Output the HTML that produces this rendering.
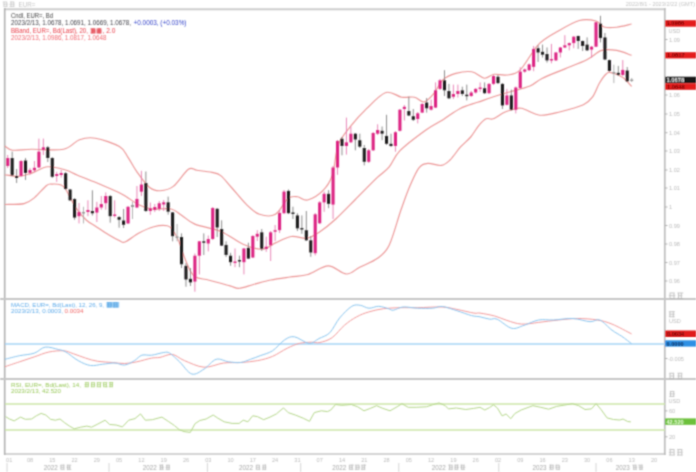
<!DOCTYPE html>
<html><head><meta charset="utf-8"><style>
html,body{margin:0;padding:0;background:#fff;}
body{width:696px;height:472px;overflow:hidden;position:relative;}
svg{position:absolute;left:0;top:0;}
text{font-family:"Liberation Sans",sans-serif;}
</style></head><body>
<svg width="696" height="472" viewBox="0 0 696 472">
<defs><filter id="bl" x="-2%" y="-2%" width="104%" height="104%"><feConvolveMatrix order="3" kernelMatrix="0.04387 0.12171 0.04387 0.12171 0.33767 0.12171 0.04387 0.12171 0.04387" edgeMode="duplicate" preserveAlpha="false"/></filter></defs>
<rect width="696" height="472" fill="#fff"/>
<g filter="url(#bl)">
<!-- top labels -->
<g stroke="#c4c4c4" stroke-width="0.87" opacity="0.90" fill="none"><path d="M2.72,2.01H7.12M3.19,4.25H7.88M3.42,6.49H7.42M4.03,2.01V6.39M6.78,2.11V7.01"/><path d="M10.02,2.01H14.12M9.40,4.25H14.46M9.57,6.49H14.48M11.05,1.66V6.67M13.77,1.95V6.47"/></g>
<text x="18.5" y="6.6" font-size="6.4" fill="#c4c4c4" textLength="16.8" lengthAdjust="spacingAndGlyphs">EUR=</text>
<text x="695" y="5.6" font-size="5.6" fill="#c4c4c4" text-anchor="end">2022/8/1 - 2023/2/22 (GMT)</text>
<!-- frame -->
<line x1="4" y1="9.3" x2="665.5" y2="9.3" stroke="#cdcdcd" stroke-width="1.9"/>
<line x1="4" y1="454" x2="665.5" y2="454" stroke="#d4d4d4" stroke-width="1.8"/>
<line x1="4.7" y1="8" x2="4.7" y2="455" stroke="#b2b2b2" stroke-width="1.6"/>
<line x1="664.8" y1="8" x2="664.8" y2="455" stroke="#bdbdbd" stroke-width="1.7"/>
<line x1="0" y1="299" x2="696" y2="299" stroke="#c6c6c6" stroke-width="1.8"/>
<line x1="0" y1="379" x2="696" y2="379" stroke="#c6c6c6" stroke-width="1.8"/>
<!-- bands -->
<g fill="none" stroke="#ec9696" stroke-width="1.15">
<path d="M4.8,146.1 C6.1,146.8 8.2,149.7 12.7,150.2 C17.2,150.7 23.3,149.5 31.8,149.3 C40.3,149.2 55.6,150.9 63.6,149.3 C71.5,147.7 74.2,141.5 79.5,139.7 C84.8,137.8 88.8,137.0 95.4,138.2 C102.1,139.3 114.0,143.4 119.4,146.6 C124.8,149.8 125.1,153.2 128.0,157.3 C130.9,161.4 133.0,166.3 136.6,171.3 C140.2,176.3 145.6,184.3 149.6,187.5 C153.6,190.7 156.4,190.9 160.3,190.7 C164.2,190.5 168.6,190.0 173.3,186.4 C178.0,182.8 184.5,171.9 188.4,169.2 C192.3,166.5 193.1,169.8 197.0,170.3 C200.9,170.8 208.2,171.5 212.1,172.4 C216.0,173.3 217.5,173.1 220.7,175.6 C223.9,178.1 227.2,182.7 231.5,187.5 C235.8,192.3 241.9,200.2 246.6,204.7 C251.3,209.2 254.7,212.7 259.5,214.3 C264.3,215.9 270.6,217.0 275.4,214.3 C280.2,211.7 284.4,201.3 288.1,198.4 C291.8,195.5 294.4,196.5 297.6,196.8 C300.9,197.1 303.4,201.1 307.6,200.0 C311.9,198.9 318.9,194.7 323.1,190.4 C327.3,186.2 330.1,182.1 332.6,174.5 C335.1,166.9 335.1,153.1 338.2,145.0 C341.2,136.9 346.1,132.0 350.9,125.9 C355.7,119.8 361.0,114.0 366.8,108.4 C372.6,102.8 380.1,94.4 385.9,92.5 C391.7,90.6 396.9,96.4 401.7,97.2 C406.5,98.0 410.8,96.4 414.5,97.2 C418.2,98.0 420.8,102.5 424.0,102.0 C427.2,101.5 430.3,97.7 433.5,94.0 C436.7,90.3 439.4,83.1 443.1,79.7 C446.8,76.3 451.0,74.7 455.8,73.4 C460.6,72.1 466.9,71.0 471.7,71.8 C476.5,72.6 480.7,77.8 484.4,78.2 C488.1,78.6 490.3,74.8 494.0,74.3 C497.7,73.8 502.4,75.7 506.7,75.0 C511.0,74.3 514.8,75.2 520.0,70.2 C525.2,65.2 532.1,51.2 538.2,44.8 C544.4,38.4 550.0,35.9 556.9,31.8 C563.8,27.8 572.8,22.3 579.3,20.5 C585.8,18.7 591.9,19.9 596.0,21.0 C600.1,22.1 600.5,26.0 604.0,27.0 C607.5,28.0 612.1,27.7 616.7,27.2 C621.3,26.7 629.1,24.5 631.6,24.0"/>
<path d="M4.8,174.7 C7.2,175.0 14.5,176.6 19.0,176.3 C23.5,176.0 27.0,174.7 31.8,173.1 C36.6,171.5 42.1,167.3 47.7,166.8 C53.3,166.3 60.5,168.6 65.5,170.0 C70.5,171.4 71.8,172.8 77.6,175.2 C83.3,177.6 92.7,181.2 100.0,184.3 C107.3,187.4 115.1,190.6 121.6,194.0 C128.1,197.4 133.8,202.2 138.8,204.7 C143.8,207.2 146.3,208.3 151.7,209.0 C157.1,209.7 166.1,207.9 171.1,209.0 C176.1,210.1 177.9,213.0 181.9,215.5 C185.9,218.0 188.2,221.4 194.8,224.1 C201.4,226.8 213.2,228.3 221.3,231.7 C229.4,235.1 236.7,241.6 243.6,244.5 C250.5,247.4 257.4,249.5 262.7,249.2 C268.0,248.9 270.6,245.0 275.4,242.9 C280.2,240.8 286.0,237.3 291.3,236.5 C296.6,235.7 302.4,238.9 307.2,238.1 C312.0,237.3 315.1,234.9 319.9,231.7 C324.7,228.5 330.0,224.3 335.8,219.0 C341.6,213.7 348.0,206.9 354.9,200.0 C361.8,193.1 371.4,183.2 377.1,177.7 C382.8,172.2 385.2,171.7 389.0,167.2 C392.8,162.7 393.9,156.9 400.0,150.7 C406.1,144.5 418.7,135.2 425.9,130.0 C433.1,124.8 437.3,123.3 443.0,119.7 C448.7,116.1 454.5,111.3 460.3,108.4 C466.1,105.5 471.6,104.4 477.6,102.3 C483.7,100.2 491.2,97.5 496.6,95.8 C502.1,94.0 504.7,93.4 510.3,91.8 C515.9,90.2 524.7,88.2 530.0,86.0 C535.3,83.8 536.3,81.2 542.0,78.4 C547.7,75.6 556.9,72.2 564.4,69.1 C571.9,66.0 580.6,62.9 586.8,59.8 C593.0,56.7 596.7,52.0 601.7,50.4 C606.7,48.8 611.7,49.6 616.7,50.4 C621.7,51.2 629.1,54.5 631.6,55.3"/>
<path d="M4.8,204.5 C8.0,204.3 19.2,204.8 24.1,203.6 C29.1,202.4 30.8,200.6 34.5,197.6 C38.2,194.6 43.7,187.8 46.6,185.5 C49.5,183.2 49.4,184.2 51.7,184.1 C54.0,184.0 58.0,183.9 60.3,184.7 C62.6,185.5 62.9,185.1 65.5,189.0 C68.1,192.9 72.5,202.7 75.9,207.9 C79.4,213.1 82.8,216.8 86.2,220.0 C89.7,223.2 92.9,224.5 96.6,226.9 C100.3,229.3 104.8,232.4 108.6,234.7 C112.4,237.0 117.0,239.5 119.7,240.7 C122.4,241.9 121.8,243.3 125.0,242.0 C128.2,240.7 134.2,235.6 139.0,233.0 C143.8,230.4 149.2,227.9 153.9,226.7 C158.6,225.5 164.1,225.2 167.3,225.8 C170.5,226.4 171.1,228.0 173.0,230.5 C174.9,233.0 176.8,236.5 178.7,241.0 C180.6,245.5 182.5,252.4 184.4,257.3 C186.3,262.2 188.3,267.3 190.2,270.6 C192.1,273.9 192.7,275.7 195.9,277.3 C199.1,278.9 203.5,278.8 209.2,280.2 C214.9,281.6 225.0,284.5 230.0,285.9 C235.0,287.2 235.2,288.5 239.1,288.3 C243.0,288.1 248.1,285.9 253.4,284.5 C258.7,283.1 264.6,281.2 270.7,280.0 C276.8,278.8 283.8,277.9 290.0,277.0 C296.2,276.1 301.6,276.4 308.0,274.5 C314.4,272.6 321.8,266.0 328.2,265.9 C334.6,265.8 341.1,273.8 346.3,274.0 C351.6,274.2 354.5,269.8 359.7,267.2 C364.9,264.6 372.6,262.0 377.5,258.3 C382.4,254.6 385.4,253.2 389.3,245.0 C393.2,236.8 397.7,219.2 401.2,209.3 C404.7,199.4 407.1,192.5 410.1,185.6 C413.1,178.7 416.0,171.5 419.0,167.8 C422.0,164.1 424.2,163.8 427.9,163.4 C431.6,163.0 437.6,166.0 441.3,165.4 C445.0,164.8 446.8,163.0 450.0,160.0 C453.2,157.0 456.9,151.0 460.3,147.2 C463.8,143.4 467.5,140.7 470.7,137.0 C473.9,133.3 476.7,127.8 479.3,124.8 C481.9,121.8 483.9,119.8 486.2,118.8 C488.5,117.8 490.2,119.8 493.1,118.8 C496.0,117.8 500.5,114.2 503.4,112.8 C506.3,111.4 507.3,111.0 510.3,110.2 C513.3,109.5 516.5,107.5 521.4,108.3 C526.3,109.1 533.3,114.6 539.8,115.2 C546.3,115.8 553.2,113.4 560.5,111.7 C567.8,110.0 578.0,107.3 583.4,104.8 C588.8,102.3 589.9,100.4 592.6,96.8 C595.3,93.2 597.2,86.8 599.5,83.0 C601.8,79.2 604.5,75.5 606.4,73.8 C608.3,72.1 608.3,72.0 611.0,72.6 C613.7,73.2 619.0,74.9 622.5,77.2 C626.0,79.5 630.2,84.9 631.7,86.4"/>
</g>
<line x1="7.70" y1="155.0" x2="7.70" y2="168.0" stroke="#e67ab0" stroke-width="0.9"/>
<line x1="12.16" y1="151.6" x2="12.16" y2="176.0" stroke="#808080" stroke-width="0.9"/>
<line x1="16.61" y1="169.0" x2="16.61" y2="183.0" stroke="#808080" stroke-width="0.9"/>
<line x1="21.07" y1="160.0" x2="21.07" y2="177.0" stroke="#e67ab0" stroke-width="0.9"/>
<line x1="25.53" y1="158.0" x2="25.53" y2="180.0" stroke="#808080" stroke-width="0.9"/>
<line x1="29.98" y1="168.0" x2="29.98" y2="175.0" stroke="#e67ab0" stroke-width="0.9"/>
<line x1="34.44" y1="161.0" x2="34.44" y2="172.0" stroke="#e67ab0" stroke-width="0.9"/>
<line x1="38.90" y1="138.6" x2="38.90" y2="168.0" stroke="#e67ab0" stroke-width="0.9"/>
<line x1="43.36" y1="138.6" x2="43.36" y2="155.0" stroke="#e67ab0" stroke-width="0.9"/>
<line x1="47.81" y1="146.0" x2="47.81" y2="162.0" stroke="#808080" stroke-width="0.9"/>
<line x1="52.27" y1="157.0" x2="52.27" y2="178.0" stroke="#808080" stroke-width="0.9"/>
<line x1="56.73" y1="171.8" x2="56.73" y2="181.9" stroke="#e67ab0" stroke-width="0.9"/>
<line x1="61.18" y1="170.0" x2="61.18" y2="177.5" stroke="#e67ab0" stroke-width="0.9"/>
<line x1="65.64" y1="172.0" x2="65.64" y2="190.0" stroke="#808080" stroke-width="0.9"/>
<line x1="70.10" y1="189.0" x2="70.10" y2="201.0" stroke="#808080" stroke-width="0.9"/>
<line x1="74.56" y1="198.0" x2="74.56" y2="219.8" stroke="#808080" stroke-width="0.9"/>
<line x1="79.01" y1="203.0" x2="79.01" y2="223.4" stroke="#e67ab0" stroke-width="0.9"/>
<line x1="83.47" y1="206.8" x2="83.47" y2="223.4" stroke="#aaa" stroke-width="0.9"/>
<line x1="87.93" y1="200.3" x2="87.93" y2="216.2" stroke="#e67ab0" stroke-width="0.9"/>
<line x1="92.38" y1="190.3" x2="92.38" y2="215.5" stroke="#808080" stroke-width="0.9"/>
<line x1="96.84" y1="201.8" x2="96.84" y2="222.0" stroke="#e67ab0" stroke-width="0.9"/>
<line x1="101.30" y1="196.0" x2="101.30" y2="209.7" stroke="#e67ab0" stroke-width="0.9"/>
<line x1="105.75" y1="192.4" x2="105.75" y2="209.7" stroke="#e67ab0" stroke-width="0.9"/>
<line x1="110.21" y1="195.0" x2="110.21" y2="222.7" stroke="#808080" stroke-width="0.9"/>
<line x1="114.67" y1="200.3" x2="114.67" y2="217.6" stroke="#e67ab0" stroke-width="0.9"/>
<line x1="119.12" y1="216.0" x2="119.12" y2="227.7" stroke="#808080" stroke-width="0.9"/>
<line x1="123.58" y1="209.0" x2="123.58" y2="228.0" stroke="#808080" stroke-width="0.9"/>
<line x1="128.04" y1="206.0" x2="128.04" y2="224.0" stroke="#e67ab0" stroke-width="0.9"/>
<line x1="132.50" y1="201.8" x2="132.50" y2="219.0" stroke="#aaa" stroke-width="0.9"/>
<line x1="136.95" y1="186.0" x2="136.95" y2="208.0" stroke="#e67ab0" stroke-width="0.9"/>
<line x1="141.41" y1="170.8" x2="141.41" y2="196.0" stroke="#e67ab0" stroke-width="0.9"/>
<line x1="145.87" y1="171.5" x2="145.87" y2="212.0" stroke="#808080" stroke-width="0.9"/>
<line x1="150.32" y1="202.5" x2="150.32" y2="214.8" stroke="#e67ab0" stroke-width="0.9"/>
<line x1="154.78" y1="204.0" x2="154.78" y2="212.0" stroke="#e67ab0" stroke-width="0.9"/>
<line x1="159.24" y1="201.0" x2="159.24" y2="211.0" stroke="#e67ab0" stroke-width="0.9"/>
<line x1="163.69" y1="200.0" x2="163.69" y2="211.0" stroke="#e67ab0" stroke-width="0.9"/>
<line x1="168.15" y1="196.6" x2="168.15" y2="214.6" stroke="#808080" stroke-width="0.9"/>
<line x1="172.61" y1="212.0" x2="172.61" y2="241.3" stroke="#808080" stroke-width="0.9"/>
<line x1="177.07" y1="224.0" x2="177.07" y2="241.3" stroke="#aaa" stroke-width="0.9"/>
<line x1="181.52" y1="233.4" x2="181.52" y2="268.0" stroke="#808080" stroke-width="0.9"/>
<line x1="185.98" y1="263.0" x2="185.98" y2="286.7" stroke="#808080" stroke-width="0.9"/>
<line x1="190.44" y1="268.0" x2="190.44" y2="286.0" stroke="#808080" stroke-width="0.9"/>
<line x1="194.89" y1="253.5" x2="194.89" y2="291.7" stroke="#e67ab0" stroke-width="0.9"/>
<line x1="199.35" y1="241.0" x2="199.35" y2="274.4" stroke="#e67ab0" stroke-width="0.9"/>
<line x1="203.81" y1="233.4" x2="203.81" y2="255.0" stroke="#808080" stroke-width="0.9"/>
<line x1="208.26" y1="235.5" x2="208.26" y2="251.4" stroke="#e67ab0" stroke-width="0.9"/>
<line x1="212.72" y1="207.0" x2="212.72" y2="240.0" stroke="#e67ab0" stroke-width="0.9"/>
<line x1="217.18" y1="208.0" x2="217.18" y2="237.0" stroke="#808080" stroke-width="0.9"/>
<line x1="221.64" y1="220.3" x2="221.64" y2="246.0" stroke="#808080" stroke-width="0.9"/>
<line x1="226.09" y1="241.3" x2="226.09" y2="257.0" stroke="#808080" stroke-width="0.9"/>
<line x1="230.55" y1="252.8" x2="230.55" y2="265.8" stroke="#808080" stroke-width="0.9"/>
<line x1="235.01" y1="248.5" x2="235.01" y2="267.2" stroke="#e67ab0" stroke-width="0.9"/>
<line x1="239.46" y1="255.7" x2="239.46" y2="267.2" stroke="#808080" stroke-width="0.9"/>
<line x1="243.92" y1="248.0" x2="243.92" y2="274.4" stroke="#e67ab0" stroke-width="0.9"/>
<line x1="248.38" y1="242.7" x2="248.38" y2="259.0" stroke="#808080" stroke-width="0.9"/>
<line x1="252.83" y1="235.0" x2="252.83" y2="258.0" stroke="#e67ab0" stroke-width="0.9"/>
<line x1="257.29" y1="230.2" x2="257.29" y2="241.0" stroke="#e67ab0" stroke-width="0.9"/>
<line x1="261.75" y1="229.0" x2="261.75" y2="251.0" stroke="#808080" stroke-width="0.9"/>
<line x1="266.21" y1="236.7" x2="266.21" y2="251.8" stroke="#e67ab0" stroke-width="0.9"/>
<line x1="270.66" y1="231.0" x2="270.66" y2="261.0" stroke="#e67ab0" stroke-width="0.9"/>
<line x1="275.12" y1="225.0" x2="275.12" y2="241.0" stroke="#e67ab0" stroke-width="0.9"/>
<line x1="279.58" y1="210.0" x2="279.58" y2="233.0" stroke="#e67ab0" stroke-width="0.9"/>
<line x1="284.03" y1="190.0" x2="284.03" y2="214.0" stroke="#e67ab0" stroke-width="0.9"/>
<line x1="288.49" y1="189.5" x2="288.49" y2="214.0" stroke="#808080" stroke-width="0.9"/>
<line x1="292.95" y1="206.7" x2="292.95" y2="219.0" stroke="#808080" stroke-width="0.9"/>
<line x1="297.40" y1="213.2" x2="297.40" y2="231.0" stroke="#808080" stroke-width="0.9"/>
<line x1="301.86" y1="215.4" x2="301.86" y2="233.8" stroke="#808080" stroke-width="0.9"/>
<line x1="306.32" y1="211.0" x2="306.32" y2="241.0" stroke="#808080" stroke-width="0.9"/>
<line x1="310.78" y1="236.0" x2="310.78" y2="256.8" stroke="#808080" stroke-width="0.9"/>
<line x1="315.23" y1="213.0" x2="315.23" y2="255.4" stroke="#e67ab0" stroke-width="0.9"/>
<line x1="319.69" y1="201.0" x2="319.69" y2="224.0" stroke="#e67ab0" stroke-width="0.9"/>
<line x1="324.15" y1="191.6" x2="324.15" y2="211.8" stroke="#e67ab0" stroke-width="0.9"/>
<line x1="328.60" y1="190.2" x2="328.60" y2="208.2" stroke="#808080" stroke-width="0.9"/>
<line x1="333.06" y1="166.0" x2="333.06" y2="219.0" stroke="#e67ab0" stroke-width="0.9"/>
<line x1="337.52" y1="140.0" x2="337.52" y2="174.8" stroke="#e67ab0" stroke-width="0.9"/>
<line x1="341.97" y1="137.0" x2="341.97" y2="155.3" stroke="#808080" stroke-width="0.9"/>
<line x1="346.43" y1="117.6" x2="346.43" y2="154.6" stroke="#e67ab0" stroke-width="0.9"/>
<line x1="350.89" y1="126.5" x2="350.89" y2="143.0" stroke="#e67ab0" stroke-width="0.9"/>
<line x1="355.35" y1="133.0" x2="355.35" y2="150.3" stroke="#808080" stroke-width="0.9"/>
<line x1="359.80" y1="133.7" x2="359.80" y2="148.0" stroke="#808080" stroke-width="0.9"/>
<line x1="364.26" y1="145.0" x2="364.26" y2="165.4" stroke="#808080" stroke-width="0.9"/>
<line x1="368.72" y1="149.0" x2="368.72" y2="163.0" stroke="#e67ab0" stroke-width="0.9"/>
<line x1="373.17" y1="132.0" x2="373.17" y2="151.0" stroke="#e67ab0" stroke-width="0.9"/>
<line x1="377.63" y1="124.3" x2="377.63" y2="135.0" stroke="#e67ab0" stroke-width="0.9"/>
<line x1="382.09" y1="126.5" x2="382.09" y2="140.2" stroke="#808080" stroke-width="0.9"/>
<line x1="386.54" y1="114.8" x2="386.54" y2="145.0" stroke="#808080" stroke-width="0.9"/>
<line x1="391.00" y1="133.7" x2="391.00" y2="147.0" stroke="#808080" stroke-width="0.9"/>
<line x1="395.46" y1="131.0" x2="395.46" y2="151.7" stroke="#e67ab0" stroke-width="0.9"/>
<line x1="399.92" y1="109.0" x2="399.92" y2="131.5" stroke="#e67ab0" stroke-width="0.9"/>
<line x1="404.37" y1="105.0" x2="404.37" y2="120.5" stroke="#e67ab0" stroke-width="0.9"/>
<line x1="408.83" y1="96.7" x2="408.83" y2="116.0" stroke="#808080" stroke-width="0.9"/>
<line x1="413.29" y1="109.0" x2="413.29" y2="121.0" stroke="#808080" stroke-width="0.9"/>
<line x1="417.74" y1="112.0" x2="417.74" y2="123.4" stroke="#e67ab0" stroke-width="0.9"/>
<line x1="422.20" y1="103.0" x2="422.20" y2="113.0" stroke="#e67ab0" stroke-width="0.9"/>
<line x1="426.66" y1="98.0" x2="426.66" y2="112.6" stroke="#808080" stroke-width="0.9"/>
<line x1="431.11" y1="99.6" x2="431.11" y2="110.5" stroke="#e67ab0" stroke-width="0.9"/>
<line x1="435.57" y1="82.4" x2="435.57" y2="108.0" stroke="#e67ab0" stroke-width="0.9"/>
<line x1="440.03" y1="79.0" x2="440.03" y2="90.0" stroke="#e67ab0" stroke-width="0.9"/>
<line x1="444.49" y1="70.2" x2="444.49" y2="96.0" stroke="#808080" stroke-width="0.9"/>
<line x1="448.94" y1="83.9" x2="448.94" y2="99.0" stroke="#808080" stroke-width="0.9"/>
<line x1="453.40" y1="84.6" x2="453.40" y2="99.0" stroke="#e67ab0" stroke-width="0.9"/>
<line x1="457.86" y1="84.6" x2="457.86" y2="97.5" stroke="#e67ab0" stroke-width="0.9"/>
<line x1="462.31" y1="86.7" x2="462.31" y2="96.0" stroke="#808080" stroke-width="0.9"/>
<line x1="466.77" y1="84.6" x2="466.77" y2="100.4" stroke="#808080" stroke-width="0.9"/>
<line x1="471.23" y1="91.0" x2="471.23" y2="97.0" stroke="#e67ab0" stroke-width="0.9"/>
<line x1="475.68" y1="88.0" x2="475.68" y2="93.5" stroke="#e67ab0" stroke-width="0.9"/>
<line x1="480.14" y1="82.4" x2="480.14" y2="91.8" stroke="#e67ab0" stroke-width="0.9"/>
<line x1="484.60" y1="82.4" x2="484.60" y2="94.0" stroke="#808080" stroke-width="0.9"/>
<line x1="489.06" y1="83.0" x2="489.06" y2="94.0" stroke="#e67ab0" stroke-width="0.9"/>
<line x1="493.51" y1="75.0" x2="493.51" y2="85.0" stroke="#e67ab0" stroke-width="0.9"/>
<line x1="497.97" y1="75.0" x2="497.97" y2="84.0" stroke="#808080" stroke-width="0.9"/>
<line x1="502.43" y1="83.0" x2="502.43" y2="109.0" stroke="#808080" stroke-width="0.9"/>
<line x1="506.88" y1="88.9" x2="506.88" y2="105.5" stroke="#e67ab0" stroke-width="0.9"/>
<line x1="511.34" y1="89.6" x2="511.34" y2="110.5" stroke="#808080" stroke-width="0.9"/>
<line x1="515.80" y1="86.5" x2="515.80" y2="113.4" stroke="#e67ab0" stroke-width="0.9"/>
<line x1="520.25" y1="67.3" x2="520.25" y2="89.0" stroke="#e67ab0" stroke-width="0.9"/>
<line x1="524.71" y1="68.5" x2="524.71" y2="72.7" stroke="#e67ab0" stroke-width="0.9"/>
<line x1="529.17" y1="63.5" x2="529.17" y2="71.0" stroke="#e67ab0" stroke-width="0.9"/>
<line x1="533.63" y1="46.0" x2="533.63" y2="71.2" stroke="#e67ab0" stroke-width="0.9"/>
<line x1="538.08" y1="45.3" x2="538.08" y2="61.9" stroke="#808080" stroke-width="0.9"/>
<line x1="542.54" y1="44.6" x2="542.54" y2="57.5" stroke="#808080" stroke-width="0.9"/>
<line x1="547.00" y1="47.5" x2="547.00" y2="62.6" stroke="#808080" stroke-width="0.9"/>
<line x1="551.45" y1="43.9" x2="551.45" y2="63.3" stroke="#e67ab0" stroke-width="0.9"/>
<line x1="555.91" y1="52.0" x2="555.91" y2="61.0" stroke="#e67ab0" stroke-width="0.9"/>
<line x1="560.37" y1="47.0" x2="560.37" y2="57.5" stroke="#e67ab0" stroke-width="0.9"/>
<line x1="564.83" y1="35.2" x2="564.83" y2="48.0" stroke="#e67ab0" stroke-width="0.9"/>
<line x1="569.28" y1="42.5" x2="569.28" y2="50.3" stroke="#e67ab0" stroke-width="0.9"/>
<line x1="573.74" y1="36.0" x2="573.74" y2="48.2" stroke="#e67ab0" stroke-width="0.9"/>
<line x1="578.20" y1="35.5" x2="578.20" y2="48.9" stroke="#808080" stroke-width="0.9"/>
<line x1="582.65" y1="40.5" x2="582.65" y2="51.0" stroke="#808080" stroke-width="0.9"/>
<line x1="587.11" y1="37.4" x2="587.11" y2="51.0" stroke="#808080" stroke-width="0.9"/>
<line x1="591.57" y1="46.0" x2="591.57" y2="57.5" stroke="#e67ab0" stroke-width="0.9"/>
<line x1="596.02" y1="21.5" x2="596.02" y2="47.0" stroke="#e67ab0" stroke-width="0.9"/>
<line x1="600.48" y1="15.8" x2="600.48" y2="42.4" stroke="#808080" stroke-width="0.9"/>
<line x1="604.94" y1="33.0" x2="604.94" y2="60.0" stroke="#808080" stroke-width="0.9"/>
<line x1="609.39" y1="59.5" x2="609.39" y2="72.0" stroke="#808080" stroke-width="0.9"/>
<line x1="613.85" y1="64.7" x2="613.85" y2="83.1" stroke="#aaa" stroke-width="0.9"/>
<line x1="618.31" y1="65.9" x2="618.31" y2="76.0" stroke="#808080" stroke-width="0.9"/>
<line x1="622.77" y1="60.1" x2="622.77" y2="76.0" stroke="#e67ab0" stroke-width="0.9"/>
<line x1="627.22" y1="67.0" x2="627.22" y2="82.0" stroke="#808080" stroke-width="0.9"/>
<line x1="631.68" y1="78.0" x2="631.68" y2="82.0" stroke="#aaa" stroke-width="0.9"/>
<rect x="6.15" y="158.0" width="3.1" height="8.0" fill="#dc2282"/>
<rect x="10.61" y="158.0" width="3.1" height="17.4" fill="#1e1a1c"/>
<rect x="15.06" y="176.0" width="3.1" height="2.0" fill="#1e1a1c"/>
<rect x="19.52" y="161.0" width="3.1" height="15.0" fill="#dc2282"/>
<rect x="23.98" y="160.5" width="3.1" height="12.5" fill="#1e1a1c"/>
<rect x="28.43" y="170.0" width="3.1" height="3.0" fill="#dc2282"/>
<rect x="32.89" y="167.8" width="3.1" height="2.5" fill="#dc2282"/>
<rect x="37.35" y="151.6" width="3.1" height="15.9" fill="#dc2282"/>
<rect x="41.81" y="147.3" width="3.1" height="2.7" fill="#dc2282"/>
<rect x="46.26" y="147.3" width="3.1" height="10.7" fill="#1e1a1c"/>
<rect x="50.72" y="158.0" width="3.1" height="18.8" fill="#1e1a1c"/>
<rect x="55.18" y="174.0" width="3.1" height="2.0" fill="#dc2282"/>
<rect x="59.63" y="173.0" width="3.1" height="2.0" fill="#dc2282"/>
<rect x="64.09" y="173.2" width="3.1" height="15.8" fill="#1e1a1c"/>
<rect x="68.55" y="189.5" width="3.1" height="10.8" fill="#1e1a1c"/>
<rect x="73.01" y="199.0" width="3.1" height="18.6" fill="#1e1a1c"/>
<rect x="77.46" y="211.9" width="3.1" height="4.3" fill="#dc2282"/>
<rect x="81.92" y="212.0" width="3.1" height="1.5" fill="#9a9a9a"/>
<rect x="86.38" y="210.0" width="3.1" height="2.0" fill="#dc2282"/>
<rect x="90.83" y="211.0" width="3.1" height="2.3" fill="#1e1a1c"/>
<rect x="95.29" y="207.5" width="3.1" height="5.1" fill="#dc2282"/>
<rect x="99.75" y="204.0" width="3.1" height="3.5" fill="#dc2282"/>
<rect x="104.20" y="196.0" width="3.1" height="7.2" fill="#dc2282"/>
<rect x="108.66" y="196.0" width="3.1" height="20.2" fill="#1e1a1c"/>
<rect x="113.12" y="214.5" width="3.1" height="1.5" fill="#dc2282"/>
<rect x="117.58" y="217.0" width="3.1" height="2.8" fill="#1e1a1c"/>
<rect x="122.03" y="220.5" width="3.1" height="4.3" fill="#1e1a1c"/>
<rect x="126.49" y="206.8" width="3.1" height="16.6" fill="#dc2282"/>
<rect x="130.95" y="205.0" width="3.1" height="2.0" fill="#9a9a9a"/>
<rect x="135.40" y="198.9" width="3.1" height="8.6" fill="#dc2282"/>
<rect x="139.86" y="184.5" width="3.1" height="7.2" fill="#dc2282"/>
<rect x="144.32" y="183.0" width="3.1" height="28.0" fill="#1e1a1c"/>
<rect x="148.77" y="208.3" width="3.1" height="2.7" fill="#dc2282"/>
<rect x="153.23" y="207.0" width="3.1" height="3.0" fill="#dc2282"/>
<rect x="157.69" y="203.2" width="3.1" height="5.8" fill="#dc2282"/>
<rect x="162.14" y="202.3" width="3.1" height="2.2" fill="#dc2282"/>
<rect x="166.60" y="202.3" width="3.1" height="9.4" fill="#1e1a1c"/>
<rect x="171.06" y="212.4" width="3.1" height="23.8" fill="#1e1a1c"/>
<rect x="175.52" y="236.5" width="3.1" height="1.5" fill="#9a9a9a"/>
<rect x="179.97" y="237.0" width="3.1" height="27.3" fill="#1e1a1c"/>
<rect x="184.43" y="265.8" width="3.1" height="13.7" fill="#1e1a1c"/>
<rect x="188.89" y="278.8" width="3.1" height="3.6" fill="#1e1a1c"/>
<rect x="193.34" y="255.7" width="3.1" height="25.9" fill="#dc2282"/>
<rect x="197.80" y="241.3" width="3.1" height="14.4" fill="#dc2282"/>
<rect x="202.26" y="241.3" width="3.1" height="1.5" fill="#1e1a1c"/>
<rect x="206.71" y="239.0" width="3.1" height="4.5" fill="#dc2282"/>
<rect x="211.17" y="208.0" width="3.1" height="31.0" fill="#dc2282"/>
<rect x="215.63" y="208.8" width="3.1" height="18.7" fill="#1e1a1c"/>
<rect x="220.09" y="229.0" width="3.1" height="16.6" fill="#1e1a1c"/>
<rect x="224.54" y="244.9" width="3.1" height="10.1" fill="#1e1a1c"/>
<rect x="229.00" y="255.7" width="3.1" height="6.5" fill="#1e1a1c"/>
<rect x="233.46" y="261.5" width="3.1" height="1.5" fill="#dc2282"/>
<rect x="237.91" y="260.0" width="3.1" height="1.5" fill="#1e1a1c"/>
<rect x="242.37" y="248.5" width="3.1" height="13.7" fill="#dc2282"/>
<rect x="246.83" y="247.8" width="3.1" height="10.8" fill="#1e1a1c"/>
<rect x="251.28" y="236.0" width="3.1" height="21.5" fill="#dc2282"/>
<rect x="255.74" y="233.8" width="3.1" height="2.9" fill="#dc2282"/>
<rect x="260.20" y="232.3" width="3.1" height="16.6" fill="#1e1a1c"/>
<rect x="264.66" y="246.7" width="3.1" height="2.2" fill="#dc2282"/>
<rect x="269.11" y="232.3" width="3.1" height="13.0" fill="#dc2282"/>
<rect x="273.57" y="230.2" width="3.1" height="1.5" fill="#dc2282"/>
<rect x="278.03" y="212.9" width="3.1" height="17.3" fill="#dc2282"/>
<rect x="282.48" y="191.6" width="3.1" height="21.6" fill="#dc2282"/>
<rect x="286.94" y="190.9" width="3.1" height="22.3" fill="#1e1a1c"/>
<rect x="291.40" y="212.5" width="3.1" height="1.5" fill="#1e1a1c"/>
<rect x="295.85" y="215.4" width="3.1" height="13.0" fill="#1e1a1c"/>
<rect x="300.31" y="228.0" width="3.1" height="1.5" fill="#1e1a1c"/>
<rect x="304.77" y="230.2" width="3.1" height="10.1" fill="#1e1a1c"/>
<rect x="309.23" y="240.3" width="3.1" height="12.2" fill="#1e1a1c"/>
<rect x="313.68" y="214.3" width="3.1" height="38.9" fill="#dc2282"/>
<rect x="318.14" y="202.4" width="3.1" height="20.9" fill="#dc2282"/>
<rect x="322.60" y="193.8" width="3.1" height="8.6" fill="#dc2282"/>
<rect x="327.05" y="193.8" width="3.1" height="10.1" fill="#1e1a1c"/>
<rect x="331.51" y="167.5" width="3.1" height="37.1" fill="#dc2282"/>
<rect x="335.97" y="140.9" width="3.1" height="26.6" fill="#dc2282"/>
<rect x="340.42" y="138.7" width="3.1" height="7.3" fill="#1e1a1c"/>
<rect x="344.88" y="142.3" width="3.1" height="3.7" fill="#dc2282"/>
<rect x="349.34" y="133.7" width="3.1" height="8.6" fill="#dc2282"/>
<rect x="353.80" y="133.7" width="3.1" height="5.8" fill="#1e1a1c"/>
<rect x="358.25" y="140.2" width="3.1" height="6.5" fill="#1e1a1c"/>
<rect x="362.71" y="148.0" width="3.1" height="13.8" fill="#1e1a1c"/>
<rect x="367.17" y="150.3" width="3.1" height="11.5" fill="#dc2282"/>
<rect x="371.62" y="133.0" width="3.1" height="17.3" fill="#dc2282"/>
<rect x="376.08" y="130.0" width="3.1" height="3.7" fill="#dc2282"/>
<rect x="380.54" y="130.8" width="3.1" height="2.9" fill="#1e1a1c"/>
<rect x="384.99" y="135.9" width="3.1" height="7.9" fill="#1e1a1c"/>
<rect x="389.45" y="143.8" width="3.1" height="2.2" fill="#1e1a1c"/>
<rect x="393.91" y="132.2" width="3.1" height="13.8" fill="#dc2282"/>
<rect x="398.37" y="109.7" width="3.1" height="21.1" fill="#dc2282"/>
<rect x="402.82" y="106.8" width="3.1" height="2.2" fill="#dc2282"/>
<rect x="407.28" y="111.0" width="3.1" height="4.5" fill="#1e1a1c"/>
<rect x="411.74" y="116.2" width="3.1" height="3.6" fill="#1e1a1c"/>
<rect x="416.19" y="113.3" width="3.1" height="5.7" fill="#dc2282"/>
<rect x="420.65" y="104.0" width="3.1" height="8.6" fill="#dc2282"/>
<rect x="425.11" y="102.5" width="3.1" height="5.8" fill="#1e1a1c"/>
<rect x="429.56" y="106.0" width="3.1" height="3.7" fill="#dc2282"/>
<rect x="434.02" y="90.3" width="3.1" height="17.3" fill="#dc2282"/>
<rect x="438.48" y="80.3" width="3.1" height="8.6" fill="#dc2282"/>
<rect x="442.94" y="80.3" width="3.1" height="10.0" fill="#1e1a1c"/>
<rect x="447.39" y="91.0" width="3.1" height="7.3" fill="#1e1a1c"/>
<rect x="451.85" y="94.0" width="3.1" height="2.8" fill="#dc2282"/>
<rect x="456.31" y="91.0" width="3.1" height="3.0" fill="#dc2282"/>
<rect x="460.76" y="90.3" width="3.1" height="3.7" fill="#1e1a1c"/>
<rect x="465.22" y="94.7" width="3.1" height="1.5" fill="#1e1a1c"/>
<rect x="469.68" y="92.5" width="3.1" height="3.5" fill="#dc2282"/>
<rect x="474.13" y="88.9" width="3.1" height="3.6" fill="#dc2282"/>
<rect x="478.59" y="87.5" width="3.1" height="1.5" fill="#dc2282"/>
<rect x="483.05" y="88.2" width="3.1" height="5.0" fill="#1e1a1c"/>
<rect x="487.51" y="83.9" width="3.1" height="9.3" fill="#dc2282"/>
<rect x="491.96" y="76.0" width="3.1" height="7.9" fill="#dc2282"/>
<rect x="496.42" y="76.7" width="3.1" height="6.4" fill="#1e1a1c"/>
<rect x="500.88" y="83.9" width="3.1" height="21.6" fill="#1e1a1c"/>
<rect x="505.33" y="95.4" width="3.1" height="9.4" fill="#dc2282"/>
<rect x="509.79" y="95.4" width="3.1" height="14.4" fill="#1e1a1c"/>
<rect x="514.25" y="87.5" width="3.1" height="22.3" fill="#dc2282"/>
<rect x="518.71" y="71.6" width="3.1" height="16.6" fill="#dc2282"/>
<rect x="523.16" y="69.5" width="3.1" height="2.1" fill="#dc2282"/>
<rect x="527.62" y="64.4" width="3.1" height="5.8" fill="#dc2282"/>
<rect x="532.08" y="48.9" width="3.1" height="18.0" fill="#dc2282"/>
<rect x="536.53" y="48.2" width="3.1" height="4.3" fill="#1e1a1c"/>
<rect x="540.99" y="51.8" width="3.1" height="2.9" fill="#1e1a1c"/>
<rect x="545.45" y="54.0" width="3.1" height="6.4" fill="#1e1a1c"/>
<rect x="549.90" y="59.0" width="3.1" height="1.5" fill="#dc2282"/>
<rect x="554.36" y="52.5" width="3.1" height="7.9" fill="#dc2282"/>
<rect x="558.82" y="47.5" width="3.1" height="5.0" fill="#dc2282"/>
<rect x="563.28" y="45.3" width="3.1" height="2.2" fill="#dc2282"/>
<rect x="567.73" y="43.1" width="3.1" height="2.2" fill="#dc2282"/>
<rect x="572.19" y="36.7" width="3.1" height="6.4" fill="#dc2282"/>
<rect x="576.65" y="36.0" width="3.1" height="5.0" fill="#1e1a1c"/>
<rect x="581.10" y="41.0" width="3.1" height="5.0" fill="#1e1a1c"/>
<rect x="585.56" y="44.6" width="3.1" height="5.7" fill="#1e1a1c"/>
<rect x="590.02" y="46.7" width="3.1" height="2.9" fill="#dc2282"/>
<rect x="594.47" y="22.2" width="3.1" height="24.5" fill="#dc2282"/>
<rect x="598.93" y="23.7" width="3.1" height="14.4" fill="#1e1a1c"/>
<rect x="603.39" y="37.4" width="3.1" height="22.1" fill="#1e1a1c"/>
<rect x="607.85" y="60.1" width="3.1" height="10.9" fill="#1e1a1c"/>
<rect x="612.30" y="72.0" width="3.1" height="1.5" fill="#9a9a9a"/>
<rect x="616.76" y="72.8" width="3.1" height="2.2" fill="#1e1a1c"/>
<rect x="621.22" y="69.9" width="3.1" height="5.1" fill="#dc2282"/>
<rect x="625.67" y="70.5" width="3.1" height="10.9" fill="#1e1a1c"/>
<rect x="630.13" y="79.5" width="3.1" height="1.5" fill="#9a9a9a"/>
<!-- MACD -->
<line x1="5" y1="344" x2="665" y2="344" stroke="#a6d4f6" stroke-width="1.7"/>
<path d="M4.9,366.7 C7.4,365.9 14.7,363.4 19.6,361.8 C24.5,360.2 29.3,358.5 34.2,356.9 C39.1,355.3 44.0,353.0 48.9,352.0 C53.8,351.0 59.5,350.5 63.6,350.8 C67.7,351.1 69.6,352.5 73.3,353.7 C77.0,354.9 81.5,356.8 85.6,358.1 C89.7,359.4 93.3,360.6 97.8,361.3 C102.3,362.0 108.0,362.1 112.5,362.5 C117.0,362.9 120.6,363.6 124.7,363.5 C128.8,363.4 132.4,362.7 136.9,361.8 C141.4,360.9 147.8,358.8 151.6,358.1 C155.4,357.4 156.6,358.0 160.0,357.4 C163.4,356.8 168.1,353.9 172.2,354.4 C176.3,354.9 179.1,358.5 184.4,360.6 C189.7,362.7 197.5,366.8 204.0,367.2 C210.5,367.6 217.5,363.8 223.6,363.0 C229.7,362.2 235.0,362.9 240.7,362.5 C246.4,362.1 252.5,361.6 257.8,360.6 C263.1,359.6 267.6,358.4 272.5,356.4 C277.4,354.3 282.6,350.5 287.1,348.3 C291.6,346.1 295.3,344.4 299.4,343.4 C303.5,342.4 308.2,342.3 311.6,342.2 C315.0,342.1 316.6,343.3 320.0,342.5 C323.4,341.7 328.1,340.5 332.2,337.6 C336.3,334.7 340.3,328.8 344.4,325.3 C348.5,321.8 352.6,319.0 356.7,316.8 C360.8,314.6 364.4,313.2 368.9,311.9 C373.4,310.5 378.3,309.4 383.6,308.7 C388.9,308.0 395.0,307.9 400.7,307.7 C406.4,307.5 410.9,307.8 417.8,307.7 C424.7,307.6 435.7,306.7 442.2,307.0 C448.7,307.3 451.6,308.4 456.9,309.4 C462.2,310.4 470.1,312.5 474.0,313.1 C477.9,313.7 476.6,312.6 480.0,313.1 C483.4,313.6 490.2,314.8 494.7,316.0 C499.2,317.2 502.4,319.0 506.9,320.4 C511.4,321.8 516.3,323.8 521.6,324.1 C526.9,324.4 532.6,323.1 538.7,322.4 C544.8,321.7 551.7,320.6 558.2,320.0 C564.7,319.4 571.3,318.5 577.8,318.5 C584.3,318.5 591.7,319.1 597.4,320.0 C603.1,320.9 606.3,321.8 612.0,324.1 C617.7,326.4 628.3,332.3 631.6,333.9" fill="none" stroke="#f29a9a" stroke-width="1"/>
<path d="M4.9,359.3 C7.4,358.7 14.7,356.7 19.6,355.7 C24.5,354.7 29.9,354.6 34.2,353.2 C38.5,351.8 41.1,347.7 45.2,347.1 C49.3,346.5 55.2,348.8 58.7,349.6 C62.2,350.4 62.8,350.2 66.0,352.0 C69.2,353.8 74.1,358.4 78.2,360.6 C82.3,362.9 86.4,364.9 90.5,365.5 C94.6,366.1 98.6,364.6 102.7,364.2 C106.8,363.8 111.2,362.9 114.9,363.0 C118.6,363.1 121.4,365.4 124.7,365.0 C128.0,364.6 131.7,362.2 134.5,360.6 C137.3,359.0 139.0,356.1 141.8,355.2 C144.7,354.3 147.9,355.6 151.6,355.2 C155.3,354.8 160.8,352.8 163.8,352.5 C166.8,352.2 167.2,351.6 169.8,353.2 C172.4,354.8 175.9,358.3 179.6,361.8 C183.3,365.3 187.7,372.8 191.8,374.0 C195.9,375.2 199.9,371.6 204.0,369.1 C208.1,366.7 212.1,360.5 216.2,359.3 C220.3,358.1 224.4,361.3 228.5,361.8 C232.6,362.3 237.0,362.9 240.7,362.5 C244.4,362.1 247.2,360.4 250.5,359.3 C253.8,358.2 256.5,357.1 260.2,355.7 C263.9,354.3 268.4,353.4 272.5,350.8 C276.6,348.2 281.0,342.1 284.7,339.8 C288.4,337.5 290.4,336.2 294.5,336.8 C298.6,337.4 305.0,343.1 309.1,343.4 C313.2,343.7 315.4,340.4 318.9,338.6 C322.3,336.8 326.4,336.1 329.8,332.7 C333.2,329.3 335.9,322.4 339.6,318.0 C343.3,313.6 348.4,308.4 351.8,306.3 C355.2,304.2 357.5,305.0 360.3,305.3 C363.1,305.6 365.8,308.0 368.9,308.2 C372.0,308.4 375.4,306.2 378.7,306.3 C382.0,306.4 386.1,308.1 388.5,308.7 C390.9,309.3 390.9,310.5 393.3,310.2 C395.7,309.9 399.0,307.3 403.1,307.0 C407.2,306.7 412.9,308.0 417.8,308.2 C422.7,308.4 428.4,308.5 432.5,308.2 C436.6,307.9 438.1,306.1 442.2,306.5 C446.3,306.9 452.0,309.2 456.9,310.7 C461.8,312.2 467.8,314.6 471.6,315.6 C475.5,316.6 477.0,316.2 480.0,316.8 C483.0,317.4 486.9,318.8 489.8,319.2 C492.7,319.6 493.4,317.7 497.1,319.2 C500.8,320.7 507.3,327.3 511.8,328.3 C516.3,329.3 519.5,326.7 524.0,325.3 C528.5,323.9 533.8,320.9 538.7,320.0 C543.6,319.1 547.6,320.2 553.3,320.0 C559.0,319.8 566.8,318.2 572.9,318.5 C579.0,318.8 585.5,321.4 590.0,321.7 C594.5,321.9 596.1,318.6 599.8,320.0 C603.5,321.4 608.3,327.5 612.0,330.2 C615.7,332.9 618.5,334.1 621.8,336.3 C625.1,338.6 630.0,342.5 631.6,343.7" fill="none" stroke="#88c4ee" stroke-width="1"/>
<!-- RSI -->
<line x1="5" y1="404" x2="665" y2="404" stroke="#cce6a8" stroke-width="1.5"/>
<line x1="5" y1="430" x2="665" y2="430" stroke="#cce6a8" stroke-width="1.5"/>
<polyline points="5.5,416.6 9.5,419.0 14.2,420.9 20.5,417.1 25.3,419.3 31.6,419.0 36.3,415.8 41.1,413.4 45.8,415.0 50.6,419.3 55.3,420.2 60.0,419.0 64.8,422.9 69.5,426.1 74.2,428.8 80.6,427.2 86.9,426.1 91.6,427.2 97.9,424.0 105.1,420.2 109.7,424.5 116.1,425.0 122.4,426.9 128.7,420.2 135.0,418.6 140.5,413.9 145.3,420.2 152.4,419.7 161.9,417.1 168.2,421.3 174.5,425.6 179.3,429.7 184.0,431.6 190.3,432.4 195.0,423.7 199.8,420.5 206.1,419.0 213.2,415.0 217.9,418.2 224.2,421.8 232.1,423.4 239.2,423.4 243.2,420.2 247.9,421.8 252.7,415.8 257.4,416.6 263.7,419.7 270.0,417.1 276.4,413.9 283.5,407.9 288.2,412.6 295.3,415.0 303.2,418.2 309.5,421.3 314.3,412.6 321.3,410.8 327.6,411.6 330.8,410.0 335.5,404.5 341.9,405.3 351.3,404.5 357.7,406.8 364.0,410.8 370.3,408.4 376.6,405.7 382.9,408.4 390.0,410.8 397.1,406.8 401.9,403.7 408.2,407.3 416.1,407.3 426.3,406.8 432.6,404.8 439.0,402.9 445.3,405.7 448.4,408.9 456.3,408.0 465.8,409.5 473.7,408.4 480.0,407.3 484.8,410.0 489.5,407.6 493.5,404.8 497.4,408.0 502.1,415.9 506.1,414.0 510.8,418.7 514.8,413.6 521.1,410.0 532.9,405.7 540.8,407.3 548.7,409.2 556.6,406.4 566.1,404.8 572.4,403.7 578.7,405.7 585.0,409.5 591.4,408.9 596.1,403.7 600.8,409.2 607.1,417.9 613.5,419.5 619.8,420.0 623.0,419.0 627.7,421.5 630.9,421.9" fill="none" stroke="#b4d68a" stroke-width="1" stroke-linejoin="round"/>
<!-- texts -->
<g font-size="6.6">
<text x="11" y="17.8" fill="#404040" textLength="42" lengthAdjust="spacingAndGlyphs">Cndl, EUR=, Bd</text>
<text x="11" y="25.2" fill="#404048" textLength="120" lengthAdjust="spacingAndGlyphs">2023/2/13, 1.0678, 1.0691, 1.0669, 1.0678,</text>
<text x="133.5" y="25.2" fill="#3040c8" textLength="53" lengthAdjust="spacingAndGlyphs">+0.0003, (+0.03%)</text>
<text x="11" y="33" fill="#e83a44" textLength="77" lengthAdjust="spacingAndGlyphs">BBand, EUR=, Bd(Last), 20,</text>
<rect x="90.6" y="28.4" width="11.4" height="5" fill="#f08088" opacity="0.55"/><g stroke="#e02a36" stroke-width="0.78" opacity="1.00" fill="none"><path d="M90.63,28.93H94.58M91.39,30.94H95.23M90.64,32.95H95.25M92.21,28.82V33.07M94.24,28.40V32.80"/><path d="M97.46,28.93H101.08M97.02,30.94H101.35M96.93,32.95H101.29M98.06,28.47V32.99M99.98,28.49V33.25"/></g>
<text x="102.5" y="33" fill="#e83a44">, 2.0</text>
<text x="11" y="40.4" fill="#f06870" textLength="95.5" lengthAdjust="spacingAndGlyphs">2023/2/13, 1.0986, 1.0817, 1.0648</text>
</g>
<g font-size="6">
<text x="11" y="307" fill="#60acea" textLength="93" lengthAdjust="spacingAndGlyphs">MACD, EUR=, Bd(Last), 12, 26, 9,</text>
<rect x="106.5" y="302" width="12.7" height="5.6" fill="#80c0f0" opacity="0.8"/>
<g stroke="#4a9ae0" stroke-width="0.82" opacity="0.80" fill="none"><path d="M107.07,302.71H111.37M106.94,304.82H111.87M107.17,306.92H111.41M108.17,302.80V307.11M111.09,302.46V307.20"/><path d="M113.64,302.71H117.25M113.55,304.82H117.42M113.10,306.92H118.06M114.06,302.44V307.36M117.03,302.32V307.19"/></g>
<text x="11" y="313.3" fill="#60acea" textLength="52" lengthAdjust="spacingAndGlyphs">2023/2/13, 0.0003,</text>
<text x="64.5" y="313.3" fill="#f06a6a" textLength="19" lengthAdjust="spacingAndGlyphs">0.0034</text>
<text x="11" y="387" fill="#98c858" textLength="70" lengthAdjust="spacingAndGlyphs">RSI, EUR=, Bd(Last), 14,</text>
<g stroke="#98c858" stroke-width="0.79" opacity="0.85" fill="none"><path d="M84.86,382.66H89.09M84.41,384.70H88.86M84.55,386.74H88.58M85.82,382.42V387.03M88.31,382.75V386.93"/><path d="M91.01,382.66H94.91M90.91,384.70H95.09M90.85,386.74H94.94M91.63,382.77V387.14M94.53,382.77V386.79"/><path d="M97.06,382.66H101.45M97.34,384.70H100.64M96.62,386.74H100.94M97.32,382.21V386.64M100.42,382.65V387.30"/><path d="M102.75,382.66H107.32M103.26,384.70H106.74M103.48,386.74H107.57M103.57,382.78V386.90M106.34,382.81V387.25"/><path d="M108.86,382.66H113.13M109.22,384.70H113.04M108.90,386.74H113.02M110.17,382.03V387.02M112.39,382.03V386.84"/></g>
<text x="11" y="393.3" fill="#98c858" textLength="50" lengthAdjust="spacingAndGlyphs">2023/2/13, 42.520</text>
</g>
<!-- right axis labels -->
<g font-size="5.6" fill="#bcbcbc">
<text x="668.5" y="33">USD</text>
<text x="669" y="41.5">1.09</text>
<text x="669" y="97">1.06</text>
<text x="669" y="116">1.05</text>
<text x="669" y="134.7">1.04</text>
<text x="669" y="153">1.03</text>
<text x="669" y="172">1.02</text>
<text x="669" y="190">1.01</text>
<text x="669" y="209">1</text>
<text x="669" y="227.5">0.99</text>
<text x="669" y="246">0.98</text>
<text x="669" y="264.5">0.97</text>
<text x="669" y="283">0.96</text>
<text x="669" y="323">USD</text>
<text x="668" y="360.5">-0.005</text>
<text x="668.5" y="403">USD</text>
<text x="669" y="413">60</text>
<text x="669" y="439">20</text>
</g>
<g stroke="#b8b8b8" stroke-width="1.04" opacity="0.80" fill="none"><path d="M669.62,293.04H674.72M668.88,295.72H675.34M669.83,298.40H675.32M670.04,292.48V298.23M674.00,292.49V298.32"/><path d="M677.35,293.04H683.24M677.87,295.72H682.39M677.00,298.40H683.25M678.51,292.94V298.28M681.28,292.93V298.63"/></g>
<g stroke="#b8b8b8" stroke-width="0.98" opacity="0.80" fill="none"><path d="M668.89,311.72H674.87M669.58,314.23H674.71M668.90,316.73H674.77M669.90,311.78V316.98M673.25,311.47V317.45"/></g>
<g stroke="#b8b8b8" stroke-width="1.04" opacity="0.80" fill="none"><path d="M669.15,373.34H674.22M669.49,376.02H674.36M668.94,378.70H674.26M669.99,372.71V378.81M673.53,373.30V378.79"/><path d="M677.46,373.34H682.28M677.26,376.02H682.07M677.13,378.70H682.07M678.67,373.08V378.68M681.69,373.49V378.60"/></g>
<g stroke="#b8b8b8" stroke-width="0.98" opacity="0.80" fill="none"><path d="M669.81,391.42H674.25M669.41,393.93H674.75M669.28,396.43H674.34M670.53,391.60V396.57M673.74,391.32V396.86"/></g>
<g stroke="#b8b8b8" stroke-width="1.04" opacity="0.80" fill="none"><path d="M669.33,449.54H674.50M668.87,452.22H674.22M668.89,454.90H675.02M670.20,448.87V454.77M674.06,449.62V455.39"/><path d="M677.17,449.54H682.37M677.18,452.22H682.65M677.01,454.90H682.63M678.20,449.72V455.71M681.77,448.96V455.70"/></g>
<g stroke="#b0b0b0" stroke-width="1">
<line x1="665" y1="39.5" x2="667.5" y2="39.5"/><line x1="665" y1="95.0" x2="667.5" y2="95.0"/><line x1="665" y1="114.0" x2="667.5" y2="114.0"/><line x1="665" y1="132.7" x2="667.5" y2="132.7"/><line x1="665" y1="151.0" x2="667.5" y2="151.0"/><line x1="665" y1="170.0" x2="667.5" y2="170.0"/><line x1="665" y1="188.0" x2="667.5" y2="188.0"/><line x1="665" y1="207.0" x2="667.5" y2="207.0"/><line x1="665" y1="225.5" x2="667.5" y2="225.5"/><line x1="665" y1="244.0" x2="667.5" y2="244.0"/><line x1="665" y1="262.5" x2="667.5" y2="262.5"/><line x1="665" y1="281.0" x2="667.5" y2="281.0"/><line x1="665" y1="358.5" x2="667.5" y2="358.5"/><line x1="665" y1="410.9" x2="667.5" y2="410.9"/><line x1="665" y1="436.8" x2="667.5" y2="436.8"/>
</g>
<!-- price labels -->
<rect x="665" y="20.2" width="31" height="6.5" fill="#e41e1e"/>
<rect x="665" y="52.2" width="31" height="6.2" fill="#e41e1e"/>
<rect x="665" y="76.8" width="31" height="6.5" fill="#141414"/>
<rect x="665" y="83.3" width="31" height="6.5" fill="#e41e1e"/>
<g font-size="5.8" font-weight="bold">
<text x="666.5" y="25.4" fill="#780000">1.0986</text>
<text x="667" y="57.3" fill="#780000">1.0817</text>
<text x="666.5" y="82.1" fill="#fff">1.0678</text>
<text x="667" y="88.6" fill="#780000">1.0648</text>
</g>
<rect x="665" y="330.5" width="31" height="6.5" fill="#e01c1c"/>
<rect x="665" y="340.3" width="31" height="6.3" fill="#2e90e4"/>
<rect x="665" y="418.4" width="31" height="6.4" fill="#6cc03a"/>
<g font-size="5.6" font-weight="bold">
<text x="667" y="335.8" fill="#6a0a0a">0.0034</text>
<text x="666.5" y="345.5" fill="#0a2a5a">0.0000</text>
<text x="666.5" y="423.7" fill="#eaffdc">42.520</text>
</g>
<!-- x axis -->
<g font-size="5.6" fill="#bcbcbc">
<text x="9.2" y="461.5" text-anchor="middle">01</text><text x="30.0" y="461.5" text-anchor="middle">08</text><text x="52.3" y="461.5" text-anchor="middle">15</text><text x="74.6" y="461.5" text-anchor="middle">22</text><text x="96.8" y="461.5" text-anchor="middle">29</text><text x="119.1" y="461.5" text-anchor="middle">05</text><text x="141.4" y="461.5" text-anchor="middle">12</text><text x="163.7" y="461.5" text-anchor="middle">19</text><text x="186.0" y="461.5" text-anchor="middle">26</text><text x="208.3" y="461.5" text-anchor="middle">03</text><text x="230.5" y="461.5" text-anchor="middle">10</text><text x="252.8" y="461.5" text-anchor="middle">17</text><text x="275.1" y="461.5" text-anchor="middle">24</text><text x="297.4" y="461.5" text-anchor="middle">31</text><text x="319.7" y="461.5" text-anchor="middle">07</text><text x="342.0" y="461.5" text-anchor="middle">14</text><text x="364.3" y="461.5" text-anchor="middle">21</text><text x="386.5" y="461.5" text-anchor="middle">28</text><text x="408.8" y="461.5" text-anchor="middle">05</text><text x="431.1" y="461.5" text-anchor="middle">12</text><text x="453.4" y="461.5" text-anchor="middle">19</text><text x="475.7" y="461.5" text-anchor="middle">26</text><text x="498.0" y="461.5" text-anchor="middle">02</text><text x="520.3" y="461.5" text-anchor="middle">09</text><text x="542.5" y="461.5" text-anchor="middle">16</text><text x="564.8" y="461.5" text-anchor="middle">23</text><text x="587.1" y="461.5" text-anchor="middle">30</text><text x="609.4" y="461.5" text-anchor="middle">06</text><text x="631.7" y="461.5" text-anchor="middle">13</text><text x="654.0" y="461.5" text-anchor="middle">20</text>
</g>
<g font-size="6.3" fill="#a8a8a8">
<text x="43.8" y="469.5">2022</text><g stroke="#a8a8a8" stroke-width="0.81" opacity="0.80" fill="none"><path d="M60.43,465.18H64.32M60.76,467.26H64.24M60.64,469.33H64.54M60.93,464.95V469.20M63.85,464.59V469.24"/><path d="M66.73,465.18H71.21M66.43,467.26H70.59M66.94,469.33H71.33M67.65,464.85V469.97M69.66,465.23V469.40"/></g><text x="142.8" y="469.5">2022</text><g stroke="#a8a8a8" stroke-width="0.81" opacity="0.80" fill="none"><path d="M159.25,465.18H163.29M159.41,467.26H164.00M159.28,469.33H163.76M160.51,464.83V469.62M162.48,464.58V469.34"/><path d="M165.99,465.18H169.80M165.62,467.26H169.96M165.76,469.33H169.67M166.87,465.10V469.37M169.19,464.96V469.88"/></g><text x="239.1" y="469.5">2022</text><g stroke="#a8a8a8" stroke-width="0.81" opacity="0.80" fill="none"><path d="M256.14,465.18H259.76M256.40,467.26H259.59M255.83,469.33H260.24M256.32,464.93V469.20M259.38,465.16V469.64"/><path d="M262.49,465.18H265.99M262.31,467.26H266.27M262.19,469.33H266.13M263.21,465.30V469.56M265.58,464.58V469.74"/></g><text x="332.3" y="469.5">2022</text><g stroke="#a8a8a8" stroke-width="0.81" opacity="0.80" fill="none"><path d="M349.26,465.18H353.68M349.44,467.26H352.96M348.99,469.33H353.35M349.39,464.91V469.31M352.03,464.58V469.80"/><path d="M354.93,465.18H359.12M355.20,467.26H359.75M354.88,469.33H359.32M356.12,465.25V469.84M358.98,464.76V469.51"/><path d="M361.36,465.18H365.97M361.97,467.26H365.22M361.18,469.33H365.30M362.00,464.93V469.65M364.58,464.53V469.51"/></g><text x="431.7" y="469.5">2022</text><g stroke="#a8a8a8" stroke-width="0.81" opacity="0.80" fill="none"><path d="M448.38,465.18H452.64M448.97,467.26H452.77M448.52,469.33H452.70M449.45,464.57V469.90M452.09,465.25V469.82"/><path d="M454.60,465.18H458.67M454.31,467.26H458.91M454.26,469.33H458.34M455.18,464.66V469.45M457.57,464.53V469.29"/><path d="M460.50,465.18H464.84M460.43,467.26H465.36M461.02,469.33H464.62M461.42,464.81V469.47M463.84,465.22V469.98"/></g><text x="532.6" y="469.5">2023</text><g stroke="#a8a8a8" stroke-width="0.81" opacity="0.80" fill="none"><path d="M549.37,465.18H553.46M548.99,467.26H553.07M549.25,469.33H553.24M550.50,464.66V469.19M553.16,464.96V469.29"/><path d="M555.65,465.18H559.19M555.64,467.26H560.16M555.98,469.33H559.88M556.13,464.83V469.30M559.18,464.97V469.81"/></g><text x="615.8" y="469.5">2023</text><g stroke="#a8a8a8" stroke-width="0.81" opacity="0.80" fill="none"><path d="M632.44,465.18H636.39M632.93,467.26H637.17M632.97,469.33H636.99M633.69,465.14V469.35M635.93,464.82V469.19"/><path d="M638.33,465.18H642.65M638.56,467.26H643.07M639.27,469.33H642.82M640.01,465.34V469.95M641.98,464.71V469.35"/></g>
</g>
<g stroke="#d6d6d6" stroke-width="1">
<line x1="7.0" y1="463" x2="7.0" y2="472"/><line x1="109.0" y1="463" x2="109.0" y2="472"/><line x1="207.4" y1="463" x2="207.4" y2="472"/><line x1="300.7" y1="463" x2="300.7" y2="472"/><line x1="398.8" y1="463" x2="398.8" y2="472"/><line x1="498.8" y1="463" x2="498.8" y2="472"/><line x1="596.0" y1="463" x2="596.0" y2="472"/>
</g>
</g>
</svg>
</body></html>
